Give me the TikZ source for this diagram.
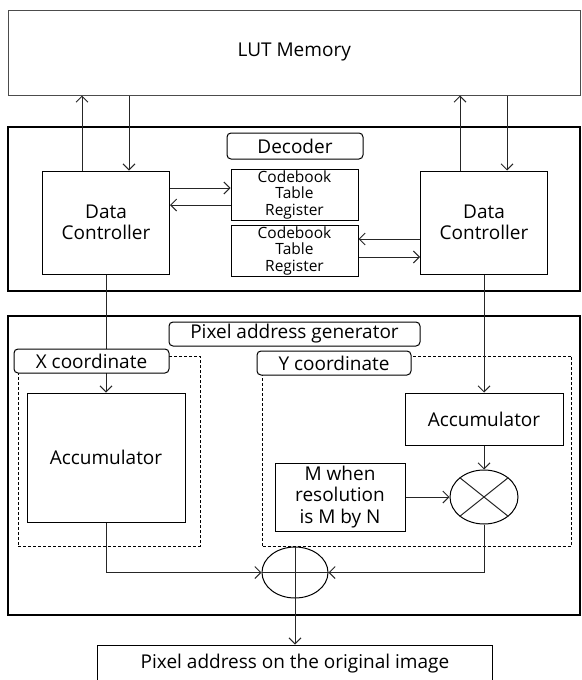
\documentclass[tikz,border=0pt]{standalone}
\usepackage{fontspec}
\setmainfont{Open Sans}
\usepackage{tikz}
\usetikzlibrary{arrows.meta,calc,positioning,shapes.geometric}
\tikzset{every picture/.style={
  >={Straight Barb[length=6pt,width=12pt]}   % Open V style arrows.
  }
}

\begin{document}
\begin{tikzpicture}[
    x=1pt, y=-1pt,
    font=\fontsize{19}{21.5}\selectfont,
    frame/.style={
      draw,
      line width=2pt,
      inner sep=0pt
    },
    blk/.style={
      draw,
      line width=1pt,
      align=center,
      inner sep=0pt
    },
    tag/.style={
      draw,
      line width=1pt,
      rounded corners=4pt,
      fill=white,
      inner sep=0pt
    },
    region/.style={
      draw,
      line width=0.8pt,
      dash pattern=on 3pt off 2pt,
      inner sep=0pt
    },
    op/.style={
      draw,
      ellipse,
      line width=1pt,
      inner sep=0pt
    },
    link/.style={
      ->,
      line width=1pt,
      draw=black!85
    }]

    \useasboundingbox (0,0) rectangle (581,680);

    % Draw the LUT memory and the decoder.
    \node[blk,draw=black!70,minimum width=571.5pt,minimum height=85pt]
      (lut) at (294.25,52.5) {LUT Memory};
    \node[frame,minimum width=571.5pt,minimum height=164pt] (dec) at (293.75,209) {};
    \node[blk,minimum width=127pt,minimum height=103pt] (dcl) at (106,222.5)
      {Data\\Controller};
    \node[blk,minimum width=127pt,minimum height=103pt] (dcr) at (484,222.5)
      {Data\\Controller};
    \node[blk,font=\fontsize{15.5}{16.5}\selectfont,minimum width=127pt,
      minimum height=51pt] (ctra) at (294.5,194.5) {Codebook\\Table\\Register};
    \node[blk,font=\fontsize{15.5}{16.5}\selectfont,minimum width=127pt,
      minimum height=51pt] (ctrb) at (294.5,250.5) {Codebook\\Table\\Register};

    % Draw the pixel address generator.
    \node[frame,minimum width=571.5pt,minimum height=299pt] (pag) at (293.75,465.5) {};
    \node[region,minimum width=182pt,minimum height=190pt] (xreg) at (109,451) {};
    \node[region,minimum width=309pt,minimum height=190pt] (yreg) at (417,451) {};
    \node[blk,minimum width=158pt,minimum height=129pt] (xacc) at (106,457.5)
      {Accumulator};
    \node[blk,minimum width=158pt,minimum height=52pt] (yacc) at (484,419)
      {Accumulator};
    \node[blk,minimum width=130pt,minimum height=68pt] (mres) at (340,497)
      {M when\\resolution\\is M by N};
    \node[op,minimum width=68pt,minimum height=54pt] (mul) at (484,497) {};
    \node[op,minimum width=66pt,minimum height=51pt] (add) at (295,572.5) {};
    \node[blk,minimum width=395pt,minimum height=37pt] (out) at (295,663.5)
      {Pixel address on the original image};

    % Draw the operator signs.
    \draw[line width=1pt,black!85] (mul.north east) -- (mul.south west)
      (mul.north west) -- (mul.south east);
    \draw[line width=1pt,black!85] (add.west) -- (add.east);

    % Draw the links.
    \draw[link] ([xshift=40pt]dcl.north west) -- ([xshift=40pt]dcl.north west |- lut.south);
    \draw[link] ([xshift=87pt]dcl.north west |- lut.south) -- ([xshift=87pt]dcl.north west);
    \draw[link] ([xshift=40pt]dcr.north west) -- ([xshift=40pt]dcr.north west |- lut.south);
    \draw[link] ([xshift=87pt]dcr.north west |- lut.south) -- ([xshift=87pt]dcr.north west);

    \draw[link] ([yshift=6.5pt]ctra.west -| dcl.east) -- ([yshift=6.5pt]ctra.west);
    \draw[link] ([yshift=-10.5pt]ctra.west) -- ([yshift=-10.5pt]ctra.west -| dcl.east);
    \draw[link] ([yshift=11.5pt]ctrb.east -| dcr.west) -- ([yshift=11.5pt]ctrb.east);
    \draw[link] ([yshift=-6.5pt]ctrb.east) -- ([yshift=-6.5pt]ctrb.east -| dcr.west);

    \draw[link] (dcl.south) -- (xacc.north);
    \draw[link] (dcr.south) -- (yacc.north);
    \draw[link] (yacc.south) -- (mul.north);
    \draw[link] (mres.east) -- (mul.west);
    \draw[link] (xacc.south) |- (add.west);
    \draw[link] (mul.south) |- (add.east);
    \draw[link] (add.north) -- (out.north);

    % Draw the tags on top of the lines.
    \node[tag,minimum width=136pt,minimum height=26pt] (dlbl) at (295,146) {Decoder};
    \node[tag,minimum width=251pt,minimum height=24pt] (plbl) at (294.5,334)
      {Pixel address generator};
    \node[tag,minimum width=155pt,minimum height=24pt] (xlbl) at (91.5,361)
      {X coordinate};
    \node[tag,minimum width=154pt,minimum height=24pt] (ylbl) at (334,363)
      {Y coordinate};
  \end{tikzpicture}
\end{document}
